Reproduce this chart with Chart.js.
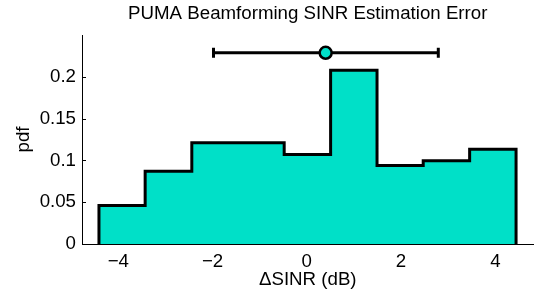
<!DOCTYPE html>
<html><head><meta charset="utf-8">
<script src="https://cdn.jsdelivr.net/npm/chart.js@4/dist/chart.umd.min.js"></script>
<style>html,body{margin:0;padding:0;background:#fff;}#wrap{width:542px;height:299px;}</style>
</head><body><div id="wrap"><canvas id="c" width="542" height="299"></canvas></div>
<script>
// ---- data ----
const binEdges  = [-4.41, -3.43, -2.44, -1.46, -0.48, 0.505, 1.49, 2.47, 3.455, 4.44];
const pdfValues = [0.046, 0.087, 0.121, 0.121, 0.107, 0.208, 0.094, 0.0995, 0.1135];
const errMean   = [0.40];
const errRange  = [-1.98, 2.79];
const errLevel  = [0.2288];
const xTicks    = [-4, -2, 0, 2, 4];
const yTicks    = [0, 0.05, 0.1, 0.15, 0.2];
const xLimits   = [-4.77, 4.81];
const yLimits   = [0, 0.25];
const titleText = 'PUMA Beamforming SINR Estimation Error';
const xLabel    = '\u0394SINR (dB)';
const yLabel    = 'pdf';

const FILL = '#00e0c8';
const FS = 18.7;
Chart.defaults.font.family = '"Liberation Sans", Arial, Helvetica, sans-serif';
Chart.defaults.color = '#000';

// stairs outline built from edges + values
const stairs = [{x: binEdges[0], y: 0}];
pdfValues.forEach((v, i) => {
  stairs.push({x: binEdges[i], y: v});
  stairs.push({x: binEdges[i + 1], y: v});
});
stairs.push({x: binEdges[binEdges.length - 1], y: 0});

const titleAlignPlugin = {
  id: 'titleAlign',
  afterLayout(chart) {
    const t = chart.titleBlock;
    if (t) { t.left = chart.chartArea.left; t.right = chart.chartArea.right; }
  }
};
const innerTicksPlugin = {
  id: 'innerTicks',
  afterDraw(chart) {
    const ys = chart.scales.y, ctx = chart.ctx;
    ctx.save();
    ctx.strokeStyle = '#000'; ctx.lineWidth = 1;
    yTicks.forEach(v => {
      const py = Math.round(ys.getPixelForValue(v)) + 0.5;
      ctx.beginPath(); ctx.moveTo(ys.right, py); ctx.lineTo(ys.right + 4, py); ctx.stroke();
    });
    ctx.restore();
  }
};

new Chart(document.getElementById('c'), {
  type: 'line',
  data: {
    datasets: [
      { // mean marker
        type: 'scatter', order: 0,
        data: [{x: errMean[0], y: errLevel[0]}],
        pointRadius: 6, pointHoverRadius: 6,
        backgroundColor: FILL, borderColor: '#000', borderWidth: 2.5,
        clip: false
      },
      { // error bar with caps
        type: 'line', order: 1,
        data: [{x: errRange[0], y: errLevel[0]}, {x: errRange[1], y: errLevel[0]}],
        borderColor: '#000', borderWidth: 3,
        pointStyle: 'line', pointRotation: 90, pointRadius: 5, pointBorderWidth: 3,
        pointBorderColor: '#000', fill: false, clip: false
      },
      { // histogram stairs
        type: 'line', order: 2,
        data: stairs,
        borderColor: '#000', borderWidth: 3, backgroundColor: FILL,
        fill: 'origin', pointRadius: 0, tension: 0,
        borderJoinStyle: 'miter', borderCapStyle: 'butt', clip: false
      }
    ]
  },
  options: {
    responsive: false, animation: false,
    layout: {padding: {left: 0, right: 4, top: 0, bottom: 0}},
    plugins: {
      legend: {display: false}, tooltip: {enabled: false},
      title: {
        display: true, text: titleText, color: '#000',
        font: {size: FS, weight: 'normal'}, padding: {top: 3, bottom: 9.6}
      }
    },
    scales: {
      x: {
        type: 'linear', min: xLimits[0], max: xLimits[1], z: 1,
        grid: {display: false, drawTicks: false},
        border: {display: true, color: '#000', width: 1},
        afterBuildTicks: s => { s.ticks = xTicks.map(v => ({value: v})); },
        afterFit: s => { s.height = 55; },
        ticks: {
          font: {size: FS}, color: '#000', padding: 7, maxRotation: 0, autoSkip: false,
          callback: v => String(v).replace('-', '\u2212')
        },
        title: {display: true, text: xLabel, color: '#000', font: {size: FS}, padding: {top: 0, bottom: 7.8}}
      },
      y: {
        type: 'linear', min: yLimits[0], max: yLimits[1],
        grid: {display: false, drawTicks: false},
        border: {display: true, color: '#000', width: 1},
        afterBuildTicks: s => { s.ticks = yTicks.map(v => ({value: v})); },
        afterFit: s => { s.width = 82; },
        ticks: {font: {size: FS}, color: '#000', padding: 6, autoSkip: false,
          callback: v => String(v)},
        title: {display: true, text: yLabel, color: '#000', font: {size: FS}, padding: {top: 12.8, bottom: 0}}
      }
    }
  },
  plugins: [titleAlignPlugin, innerTicksPlugin]
});
</script></body></html>
